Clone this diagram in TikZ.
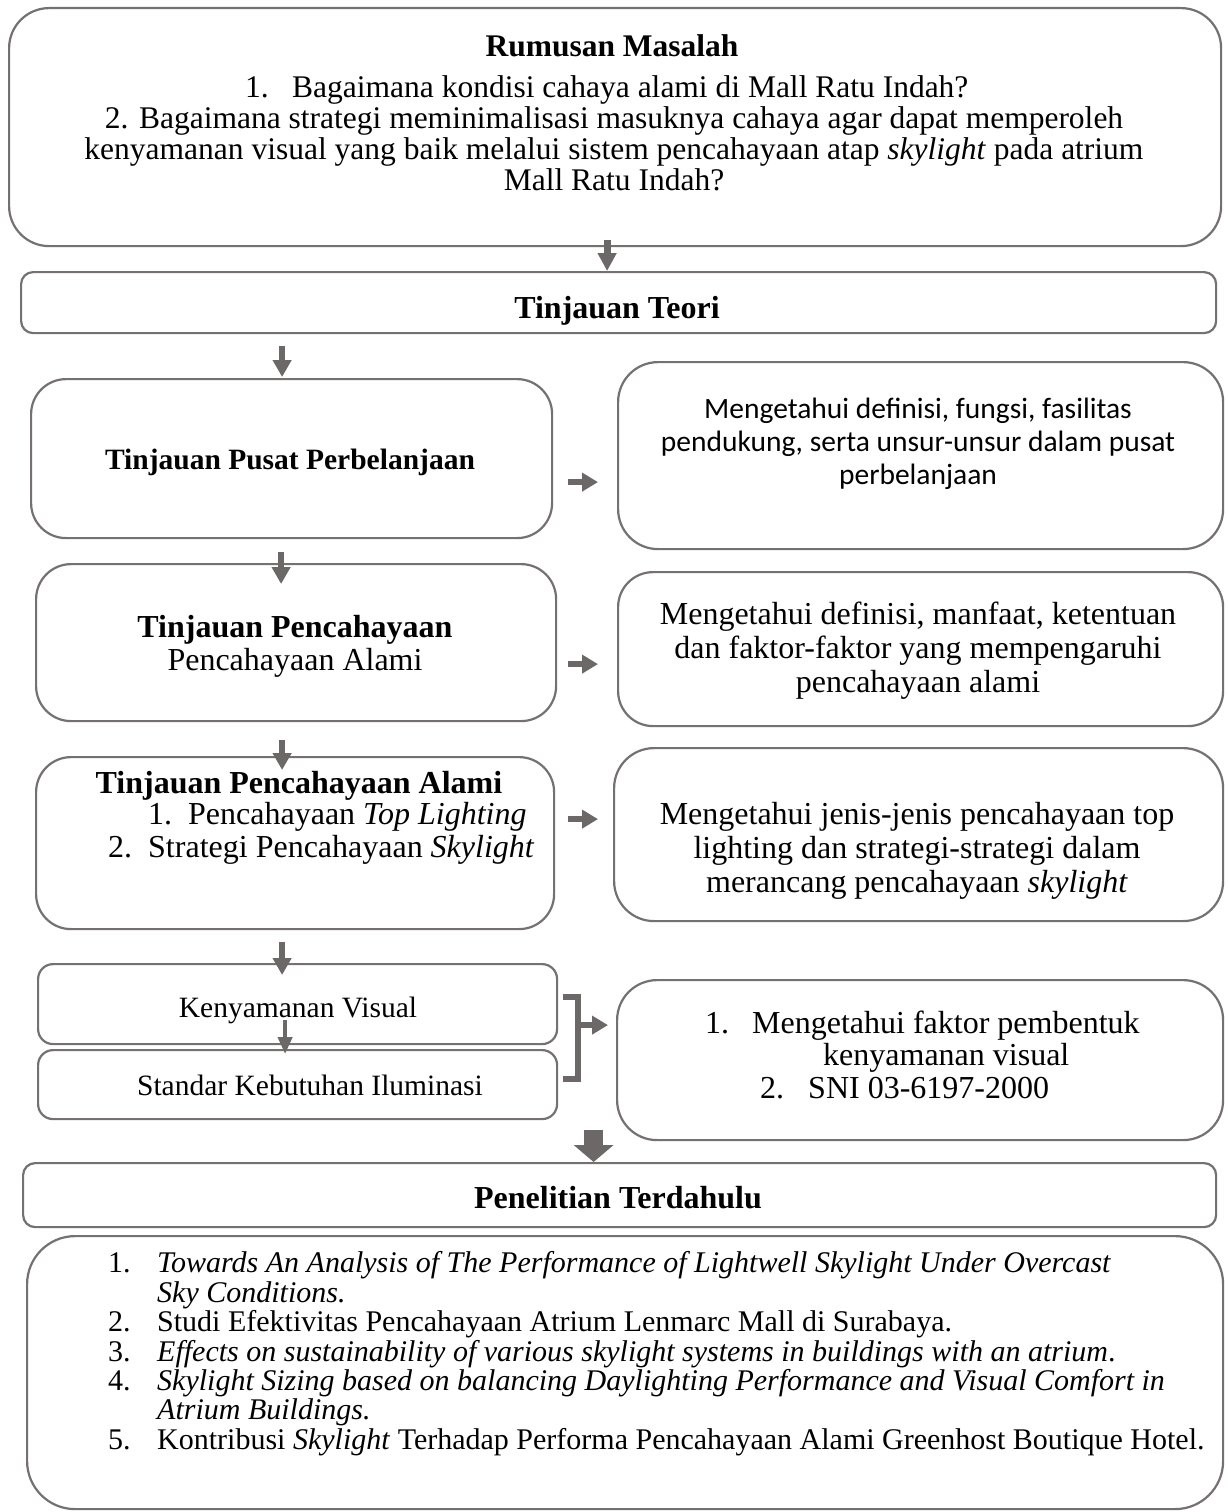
\documentclass[tikz,border=0pt]{standalone}
\usepackage{fontspec}
\setmainfont{Liberation Serif}
\newfontfamily\carl{Carlito}
\usetikzlibrary{arrows.meta,calc}
\definecolor{bgray}{RGB}{118,113,113}
\definecolor{agray}{RGB}{108,104,104}
\begin{document}
\begin{tikzpicture}[x=1pt,y=-1pt,
  bx/.style={draw=bgray,line width=2.2pt,inner sep=0pt,anchor=north west},
  txt/.style={inner sep=0pt,text=black,font=\fontsize{32}{34}\selectfont},
  txtt/.style={inner sep=0pt,text=black,font=\fontsize{31.5}{33}\selectfont},
  txts/.style={inner sep=0pt,text=black,font=\fontsize{29.5}{33}\selectfont},
  txtl/.style={inner sep=0pt,text=black,font=\fontsize{30}{33}\selectfont,anchor=base west},
  downarr/.style={agray,line width=6pt,-{Triangle[width=18pt,length=17pt]}},
  toparr/.style={agray,line width=7pt,-{Triangle[width=18pt,length=18pt]}},
  rarr/.style={agray,line width=5.5pt,-{Triangle[width=18pt,length=16pt]}},
  bigarr/.style={agray,line width=19pt,-{Triangle[width=39pt,length=17pt]}},
  brk/.style={agray,line width=6pt,line join=miter}
]
\useasboundingbox (0,0) rectangle (1227,1512);
\fill[white] (0,0) rectangle (1227,1512);

% boxes
\node[bx,rounded corners=40pt,minimum width=1212pt,minimum height=238pt] (top) at (8,7) {};
\node[bx,rounded corners=12pt,minimum width=1195pt,minimum height=61pt] (teori) at (20,271) {};
\node[bx,rounded corners=35pt,minimum width=521pt,minimum height=159pt] (pusat) at (30,378) {};
\node[bx,rounded corners=40pt,minimum width=605pt,minimum height=187pt] (r1) at (617,361) {};
\node[bx,rounded corners=35pt,minimum width=520pt,minimum height=157pt] (penc) at (35,563) {};
\node[bx,rounded corners=35pt,minimum width=605pt,minimum height=154pt] (r2) at (617,571) {};
\node[bx,rounded corners=35pt,minimum width=518pt,minimum height=172pt] (alami) at (35,756) {};
\node[bx,rounded corners=40pt,minimum width=609pt,minimum height=173pt] (r3) at (613,747) {};
\node[bx,rounded corners=15pt,minimum width=519pt,minimum height=80pt] (keny) at (37,963) {};
\node[bx,rounded corners=15pt,minimum width=519pt,minimum height=69pt] (std) at (37,1049) {};
\node[bx,rounded corners=40pt,minimum width=606pt,minimum height=160pt] (r4) at (616,979) {};
\node[bx,rounded corners=12pt,minimum width=1193pt,minimum height=64pt] (pen) at (22,1162) {};
\node[bx,rounded corners=48pt,minimum width=1196pt,minimum height=273pt] (bot) at (26,1235) {};

% top box text
\node[txtt,anchor=base] (t0) at (612,57) {\bfseries Rumusan Masalah};
\node[txtt,anchor=base west] (t1n) at (245,97) {1.};
\node[txtt,anchor=base west] (t1) at (292,97) {Bagaimana kondisi cahaya alami di Mall Ratu Indah?};
\node[txtt,anchor=base] (t2) at (614,128) {2. Bagaimana strategi meminimalisasi masuknya cahaya agar dapat memperoleh};
\node[txtt,anchor=base] (t3) at (614,159) {kenyamanan visual yang baik melalui sistem pencahayaan atap \textit{skylight} pada atrium};
\node[txtt,anchor=base] (t4) at (614,190) {Mall Ratu Indah?};

\node[txt,anchor=base] (tt) at (617,318) {\bfseries Tinjauan Teori};

\node[txt,font=\fontsize{29.5}{30}\selectfont,anchor=base] (tp) at (290,469) {\bfseries Tinjauan Pusat Perbelanjaan};

\node[txt,anchor=base] (tc1) at (295,637) {\bfseries Tinjauan Pencahayaan};
\node[txt,anchor=base] (tc2) at (295,670) {Pencahayaan Alami};

\node[txt,anchor=base] (ta0) at (299,793) {\bfseries Tinjauan Pencahayaan Alami};
\node[txt,anchor=base west] (ta1n) at (148,824) {1.};
\node[txt,anchor=base west] (ta1) at (188,824) {Pencahayaan \textit{Top Lighting}};
\node[txt,anchor=base west] (ta2n) at (108,857) {2.};
\node[txt,anchor=base west] (ta2) at (148,857) {Strategi Pencahayaan \textit{Skylight}};

\node[txt,font=\carl\fontsize{29.5}{33}\selectfont,align=center] (r1t) at (918,444)
  {Mengetahui definisi, fungsi, fasilitas\\pendukung, serta unsur-unsur dalam pusat\\perbelanjaan};
\node[txt,align=center] (r2t) at (918,651)
  {Mengetahui definisi, manfaat, ketentuan\\dan faktor-faktor yang mempengaruhi\\pencahayaan alami};
\node[txt,align=center] (r3t) at (917,851)
  {Mengetahui jenis-jenis pencahayaan top\\lighting dan strategi-strategi dalam\\merancang pencahayaan \textit{skylight}};

\node[txts,anchor=base] (tk) at (298,1017) {Kenyamanan Visual};
\node[txts,anchor=base] (ts) at (310,1095) {Standar Kebutuhan Iluminasi};

\node[txt,anchor=base west] (r4n1) at (705,1033) {1.};
\node[txt,anchor=base west] (r4a) at (752,1033) {Mengetahui faktor pembentuk};
\node[txt,anchor=base west] (r4b) at (823,1065) {kenyamanan visual};
\node[txt,anchor=base west] (r4n2) at (760,1098) {2.};
\node[txt,anchor=base west] (r4c) at (808,1098) {SNI 03-6197-2000};

\node[txt,anchor=base] (tpen) at (618,1208) {\bfseries Penelitian Terdahulu};

% list
\node[txtl] (l1n) at (108,1272) {1.};
\node[txtl] (l1) at (157,1272) {\textit{Towards An Analysis of The Performance of Lightwell Skylight Under Overcast}};
\node[txtl] (l1b) at (157,1302) {\textit{Sky Conditions.}};
\node[txtl] (l2n) at (108,1331) {2.};
\node[txtl] (l2) at (157,1331) {Studi Efektivitas Pencahayaan Atrium Lenmarc Mall di Surabaya.};
\node[txtl] (l3n) at (108,1361) {3.};
\node[txtl] (l3) at (157,1361) {\textit{Effects on sustainability of various skylight systems in buildings with an atrium}.};
\node[txtl] (l4n) at (108,1390) {4.};
\node[txtl] (l4) at (157,1390) {\textit{Skylight Sizing based on balancing Daylighting Performance and Visual Comfort in}};
\node[txtl] (l4b) at (157,1419) {\textit{Atrium Buildings.}};
\node[txtl] (l5n) at (108,1449) {5.};
\node[txtl] (l5) at (157,1449) {Kontribusi \textit{Skylight} Terhadap Performa Pencahayaan Alami Greenhost Boutique Hotel.};

% arrows
\draw[toparr] ($(top.south)+(-8,-7)$) -- ($(teori.north)+(-11.5,0)$);
\draw[downarr] ($(teori.south)+(-336.5,12)$) -- ($(pusat.north)+(-9.5,-1)$);
\draw[downarr] ($(pusat.south)+(-10.5,13)$) -- ($(penc.north)+(-15,21)$);
\draw[downarr] ($(penc.south)+(-14,18)$) -- ($(alami.north)+(-13,14)$);
\draw[downarr] ($(alami.south)+(-13,12)$) -- ($(keny.north)+(-15.5,12)$);
\draw[agray,line width=4pt,-{Triangle[width=14pt,length=17pt]}] ($(keny.south)+(-12.5,-25)$) -- ($(std.north)+(-12.5,5)$);

\draw[rarr] ($(pusat.east)+(15,23.5)$) -- ($(r1.west)+(-19,26.5)$);
\draw[rarr] ($(penc.east)+(11,21.5)$) -- ($(r2.west)+(-19,15)$);
\draw[rarr] ($(alami.east)+(13,-24)$) -- ($(r3.west)+(-15,-15.5)$);

\draw[brk] ($(keny.east)+(5,-7)$) -- ++(15,0) coordinate (bm) |- ($(std.east)+(5,-5.5)$);
\coordinate (bmid) at ($(bm)+(0,28)$);
\draw[rarr] (bmid) -- ($(r4.west)+(-8,-35)$);

\draw[bigarr] ($(pen.north)+(-26,-32)$) -- ($(pen.north)+(-26,0)$);
\end{tikzpicture}
\end{document}
